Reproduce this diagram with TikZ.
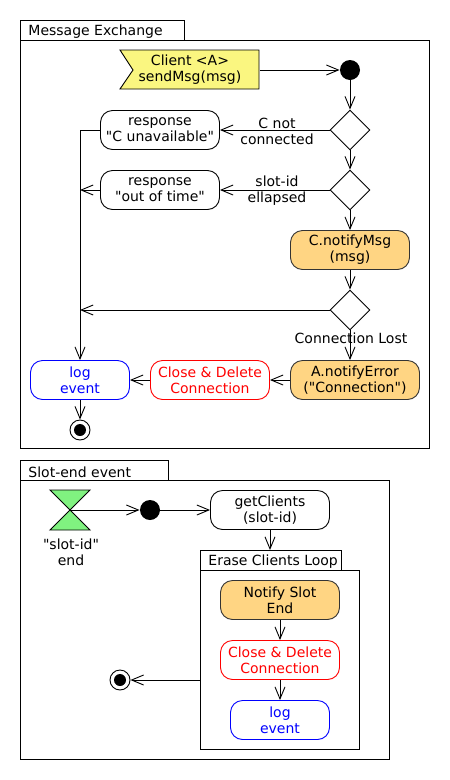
\documentclass[tikz,border=0pt]{standalone}
\usepackage{fontspec}
\setmainfont{DejaVu Sans}[Ligatures=TeXOff]
\usetikzlibrary{arrows.meta,shapes.geometric}
\definecolor{sigyellow}{RGB}{250,246,128}
\definecolor{actorange}{RGB}{255,213,131}
\definecolor{hgreen}{RGB}{128,242,128}

\begin{document}
\begin{tikzpicture}[
        x=1pt, y=-1pt,
        line width=0.9pt,
        >={Straight Barb[length=12pt,width=10pt]},
        every node/.style = {font=\fontsize{14}{16}\selectfont, align=center, inner sep=0pt},
        act/.style = {draw, rounded corners=12pt, minimum width=119pt, minimum height=39pt},
        hot/.style = {act, fill=actorange, draw=black!80},
        fail/.style = {act, draw=red, text=red},
        logbox/.style = {act, draw=blue, text=blue, minimum width=99pt},
        choice/.style = {diamond, draw, minimum width=40pt, minimum height=40pt},
        startdot/.style = {circle, fill=black, minimum size=20pt},
        enddot/.style = {circle, draw, minimum size=20pt,
            path picture={\fill (path picture bounding box.center) circle (6pt);}},
        title/.style = {anchor=west}
    ]
        \useasboundingbox (0,0) rectangle (450,780);
        % message exchange
        \draw (20,20) rectangle (184,40);
        \draw (20,40) rectangle (429,448);
        \node[title] (t1) at (28,32) {Message Exchange};
        \filldraw[fill=sigyellow] (120,50) -- (259,50) -- (259,89) -- (120,89) -- (133,70) -- cycle;
        \node[minimum width=139pt, minimum height=39pt] (sig) at (190,70) {Client <A>\\sendMsg(msg)};
        \node[startdot] (start) at (350,70) {};
        \node[choice] (d1) at (350,130) {};
        \node[choice] (d2) at (350,190) {};
        \node[act] (rsp1) at (160,130) {response\\"C unavailable"};
        \node[act] (rsp2) at (160,190) {response\\"out of time"};
        \node[hot] (nmsg) at (350,250) {C.notifyMsg\\(msg)};
        \node[choice] (d3) at (350,310) {};
        \node[hot, minimum width=129pt] (nerr) at (355,380) {A.notifyError\\("Connection")};
        \node[fail] (cls) at (210,380) {Close \& Delete\\Connection};
        \node[logbox] (log) at (80,380) {log\\event};
        \node[enddot] (end1) at (80,430) {};
        \draw[->] (sig.east) -- (start.west);
        \draw[->] (start.south) -- (d1.north);
        \draw[->] (d1.west) -- (rsp1.east);
        \draw[->] (d1.south) -- (d2.north);
        \draw[->] (d2.west) -- (rsp2.east);
        \draw[->] (d2.south) -- (nmsg.north);
        \draw[->] (nmsg.south) -- (d3.north);
        \draw[->] (d3.south) -- (d3.south |- nerr.north);
        \draw[->] (nerr.west) -- (cls.east);
        \draw[->] (cls.west) -- (log.east);
        \draw[->] (log.south) -- (end1.north);
        \draw[->] (rsp1.west) -| (log.north);
        \draw[->] (rsp2.west) -- (rsp2.west -| log.north);
        \draw[->] (d3.west) -- (d3.west -| log.north);
        \node (l1) at (277,131) {C not\\connected};
        \node (l2) at (277,191) {slot-id\\ellapsed};
        \node (l3) at (351,338) {Connection Lost};
        % slot-end event
        \draw (20,460) rectangle (168,480);
        \draw (20,480) rectangle (389,759);
        \node[title] (t2) at (28,472) {Slot-end event};
        \filldraw[fill=hgreen] (50,490) -- (90,490) -- (70,510) -- cycle;
        \filldraw[fill=hgreen] (70,510) -- (50,530) -- (90,530) -- cycle;
        \coordinate (hg) at (70,510);
        \node (hglabel) at (71,552) {"slot-id"\\end};
        \node[startdot] (start2) at (150,510) {};
        \node[act] (getc) at (270,510) {getClients\\(slot-id)};
        \draw (200,550) rectangle (341,570);
        \draw (200,570) rectangle (359,749);
        \coordinate (looptop) at (270,550);
        \coordinate (loopleft) at (200,680);
        \node[title] (t3) at (208,562) {Erase Clients Loop};
        \node[hot] (notify) at (280,600) {Notify Slot\\End};
        \node[fail] (cls2) at (280,660) {Close \& Delete\\Connection};
        \node[logbox] (log2) at (280,720) {log\\event};
        \node[enddot] (end2) at (120,680) {};
        \draw[->] (hg) -- (start2.west);
        \draw[->] (start2.east) -- (getc.west);
        \draw[->] (getc.south) -- (looptop);
        \draw[->] (notify.south) -- (cls2.north);
        \draw[->] (cls2.south) -- (log2.north);
        \draw[->] (loopleft) -- (end2.east);
    \end{tikzpicture}
\end{document}
